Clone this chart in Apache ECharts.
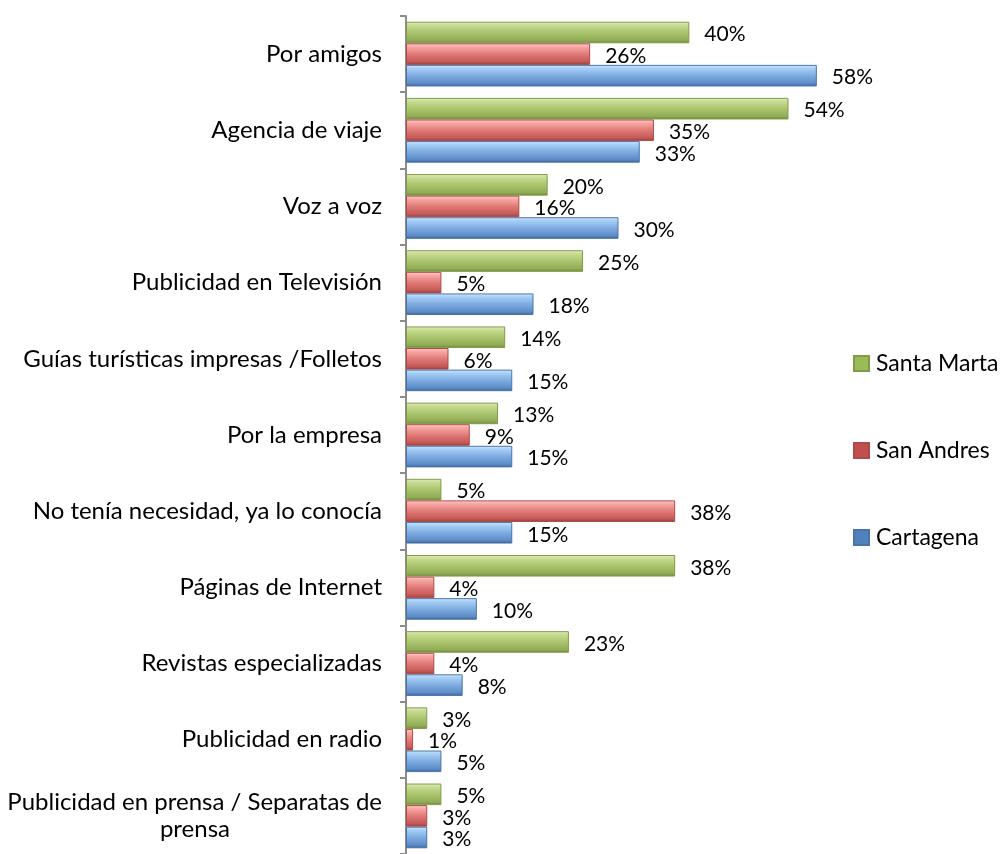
<!DOCTYPE html>
<html>
<head>
<meta charset="utf-8">
<script src="https://cdn.jsdelivr.net/npm/echarts@6/dist/echarts.min.js"></script>
<style>
  html, body { margin: 0; padding: 0; background: #ffffff; }
  #chart { width: 1006px; height: 854px; }
</style>
</head>
<body>
<div id="chart"></div>
<script>
// Cómo se enteraron del destino, por ciudad (%)
const categories = [
  'Por amigos',
  'Agencia de viaje',
  'Voz a voz',
  'Publicidad en Televisión',
  'Guías turísticas impresas /Folletos',
  'Por la empresa',
  'No tenía necesidad, ya lo conocía',
  'Páginas de Internet',
  'Revistas especializadas',
  'Publicidad en radio',
  'Publicidad en prensa / Separatas de\nprensa'
];
const santaMarta = [40, 54, 20, 25, 14, 13, 5, 38, 23, 3, 5];
const sanAndres  = [26, 35, 16, 5, 6, 9, 38, 4, 4, 1, 3];
const cartagena  = [58, 33, 30, 18, 15, 15, 15, 10, 8, 5, 3];

const FONT = 'Lato';
const CAT_SIZE = 24;
const VAL_SIZE = 21;
const LEGEND_SIZE = 23;

// Bevelled bar fill: pale top edge, light upper half, deeper lower half, dark bottom edge
function bevel(c) {
  return new echarts.graphic.LinearGradient(0, 0, 0, 1, [
    { offset: 0, color: c[0] },
    { offset: 0.15, color: c[1] },
    { offset: 0.5, color: c[2] },
    { offset: 0.85, color: c[3] },
    { offset: 1, color: c[4] }
  ]);
}

const palette = {
  green: { fill: bevel(['#e4eec9', '#c9dc94', '#aac56d', '#92ad57', '#6f8a3b']), border: '#809b47', legend: '#9bbb59' },
  red:   { fill: bevel(['#fcd3d1', '#f8a9a6', '#e07a77', '#c45a57', '#963c3a']), border: '#b04a47', legend: '#c0504d' },
  blue:  { fill: bevel(['#d5eafc', '#a8d0f7', '#7eabe0', '#5d8cc7', '#3b6394']), border: '#4a74a8', legend: '#4f81bd' }
};

// Multi-line category names: shorter lines are centred under the widest one.
// Labels are right-aligned, so a trailing spacer of half the width difference
// shifts a shorter line to the centre.
const measureCtx = document.createElement('canvas').getContext('2d');
measureCtx.font = CAT_SIZE + 'px ' + FONT;
const spacerStyles = {};

function lineLayout(v) {
  const lines = v.split('\n');
  const widths = lines.map(function (s) { return measureCtx.measureText(s).width; });
  const maxW = Math.max.apply(null, widths);
  return lines.map(function (s, i) {
    return { text: s, pad: Math.round((maxW - widths[i]) / 2) };
  });
}

categories.forEach(function (v) {
  lineLayout(v).forEach(function (l) {
    if (l.pad > 0) {
      spacerStyles['p' + l.pad] = { width: l.pad, fontFamily: FONT, fontSize: CAT_SIZE, lineHeight: 27 };
    }
  });
});

function catLabel(v) {
  if (v.indexOf('\n') < 0) return v;
  return lineLayout(v).map(function (l) {
    return l.pad > 0 ? '{c|' + l.text + '}{p' + l.pad + '| }' : '{c|' + l.text + '}';
  }).join('\n');
}

function makeSeries(name, data, p) {
  return {
    name: name,
    type: 'bar',
    data: data,
    barGap: '0%',
    barCategoryGap: '15%',
    itemStyle: { color: p.fill, borderColor: p.border, borderWidth: 1 },
    label: {
      show: true,
      position: 'right',
      distance: 15,
      offset: [0, 2],
      formatter: '{c}%',
      fontFamily: FONT,
      fontSize: VAL_SIZE,
      color: '#000'
    },
    emphasis: { disabled: true }
  };
}

const chart = echarts.init(document.getElementById('chart'), null, { renderer: 'canvas' });
chart.setOption({
  animation: false,
  backgroundColor: '#ffffff',
  legend: {
    orient: 'vertical',
    left: 853,
    top: 352,
    padding: 0,
    itemGap: 64,
    itemWidth: 15,
    itemHeight: 15,
    icon: 'rect',
    textStyle: { fontFamily: FONT, fontSize: LEGEND_SIZE, color: '#000', padding: [0, 0, 0, 2] },
    data: [
      { name: 'Santa Marta', itemStyle: { color: palette.green.legend } },
      { name: 'San Andres', itemStyle: { color: palette.red.legend } },
      { name: 'Cartagena', itemStyle: { color: palette.blue.legend } }
    ]
  },
  grid: { left: 406, right: 175, top: 16, bottom: -2, containLabel: false },
  xAxis: {
    type: 'value',
    min: 0,
    max: 60,
    show: false
  },
  yAxis: {
    type: 'category',
    data: categories,
    inverse: true,
    axisLine: { lineStyle: { color: '#8c8c8c', width: 2 } },
    axisTick: { show: true, length: 6, lineStyle: { color: '#8c8c8c', width: 2 } },
    axisLabel: {
      margin: 24,
      fontFamily: FONT,
      fontSize: CAT_SIZE,
      color: '#000',
      lineHeight: 27,
      formatter: catLabel,
      rich: Object.assign({
        c: { fontFamily: FONT, fontSize: CAT_SIZE, lineHeight: 27, color: '#000' }
      }, spacerStyles)
    }
  },
  series: [
    makeSeries('Santa Marta', santaMarta, palette.green),
    makeSeries('San Andres', sanAndres, palette.red),
    makeSeries('Cartagena', cartagena, palette.blue)
  ]
});
</script>
</body>
</html>
